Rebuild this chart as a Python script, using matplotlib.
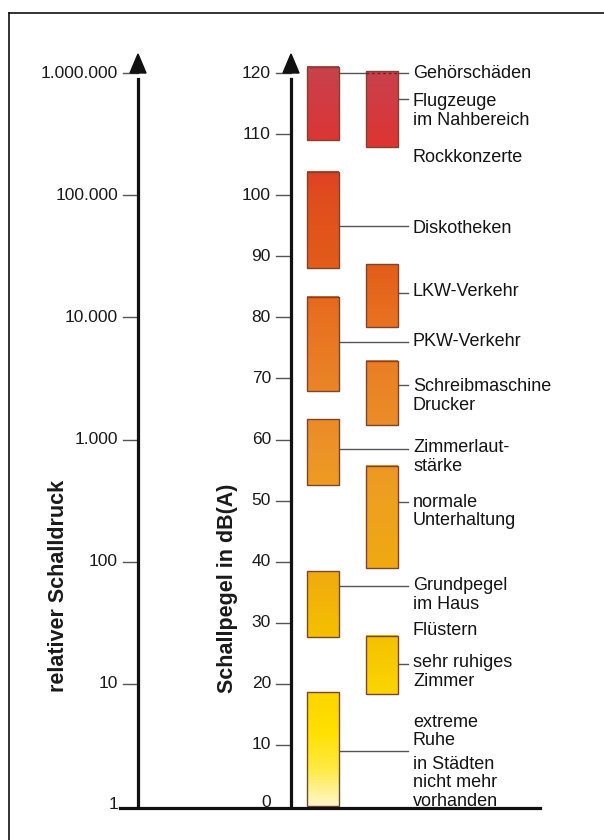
import numpy as np
import matplotlib
matplotlib.use("Agg")
import matplotlib.pyplot as plt
from matplotlib.colors import LinearSegmentedColormap, Normalize
from matplotlib.patches import Polygon

plt.rcParams['font.family'] = ['Liberation Sans', 'DejaVu Sans']

# sound level ranges in dB(A), two columns of bars
col1_lo = [109.0, 88.0, 68.0, 52.5, 27.7, 0.0]
col1_hi = [121.0, 103.8, 83.4, 63.3, 38.4, 18.6]
col2_lo = [107.9, 78.5, 62.3, 38.9, 18.4]
col2_hi = [120.3, 88.7, 72.8, 55.6, 27.9]

# labels: (center of text block in dB, text)
labels = [
    (120.0, "Gehörschäden"),
    (113.8, "Flugzeuge\nim Nahbereich"),
    (106.1, "Rockkonzerte"),
    (94.6, "Diskotheken"),
    (84.2, "LKW-Verkehr"),
    (76.1, "PKW-Verkehr"),
    (67.1, "Schreibmaschine\nDrucker"),
    (57.1, "Zimmerlaut-\nstärke"),
    (48.2, "normale\nUnterhaltung"),
    (34.5, "Grundpegel\nim Haus"),
    (28.8, "Flüstern"),
    (21.9, "sehr ruhiges\nZimmer"),
    (12.2, "extreme\nRuhe"),
    (3.8, "in Städten\nnicht mehr\nvorhanden"),
]
# leader lines: (column, level in dB)
leaders = [(1, 120.0), (2, 115.8), (1, 95.0), (2, 84.0), (1, 76.0), (2, 69.0),
           (1, 58.5), (2, 49.7), (1, 36.0), (2, 23.3), (1, 9.0)]

db_ticks = [0, 10, 20, 30, 40, 50, 60, 70, 80, 90, 100, 110, 120]
pressure = [1, 10, 100, 1000, 10000, 100000, 1000000]
pressure_labels = ["1", "10", "100", "1.000", "10.000", "100.000", "1.000.000"]

# gradient colours by level
stops = [(0, "#fff6c8"), (6, "#ffea40"), (12, "#ffe000"), (20, "#fad200"),
         (28, "#f5c000"), (38, "#f0aa10"), (50, "#eea020"), (60, "#ec9028"),
         (70, "#ea8226"), (80, "#e87020"), (90, "#e25a1a"), (100, "#e04c1e"),
         (108, "#de3430"), (114, "#d43a40"), (121, "#c8424c")]
cmap = LinearSegmentedColormap.from_list("lvl", [(v / 121, c) for v, c in stops])
norm = Normalize(0, 121)

px = 6.108  # pixels per dB
fig = plt.figure(figsize=(6.04, 8.4), dpi=100)
ax = fig.add_axes([0, 0, 1, 1])
ax.axis("off")

x_left, x_right = 138, 291
x_c1, x_c2, bw = 323, 382, 32
x_txt = 413

def draw_bars(xc, lo, hi):
    for a, b in zip(lo, hi):
        g = np.linspace(a, b, 200).reshape(-1, 1)
        ax.imshow(g, extent=[xc - bw / 2, xc + bw / 2, a, b], origin="lower",
                  cmap=cmap, norm=norm, aspect="auto", zorder=2)
    ax.bar([xc] * len(lo), np.array(hi) - np.array(lo), bottom=lo, width=bw,
           fill=False, edgecolor="#7a4430", linewidth=1.0, zorder=3)

draw_bars(x_c1, col1_lo, col1_hi)
draw_bars(x_c2, col2_lo, col2_hi)

# leader lines
for col, y in leaders:
    x0 = x_c1 + bw / 2 if col == 1 else x_c2 + bw / 2
    if col == 1 and y > col2_lo[0]:
        ax.plot([x0, x_c2 - bw / 2], [y, y], color="#555555", lw=1, zorder=1)
        ax.plot([x_c2 - bw / 2, x_c2 + bw / 2], [y, y], color="#6a2020", lw=1,
                ls=(0, (2, 2)), zorder=4)
        ax.plot([x_c2 + bw / 2, x_txt - 5], [y, y], color="#555555", lw=1, zorder=1)
    else:
        ax.plot([x0, x_txt - 5], [y, y], color="#555555", lw=1, zorder=1)

for y, t in labels:
    ax.text(x_txt, y, t, fontsize=13, ha="left", va="center", color="#141414",
            linespacing=1.12)

# axes lines
ax.plot([x_left, x_left], [0, 119], color="#111111", lw=2.3, zorder=5)
ax.plot([x_right, x_right], [0, 119], color="#111111", lw=2.3, zorder=5)
ax.plot([120, 540], [-0.3, -0.3], color="#111111", lw=2.3, zorder=5)
for xa in (x_left, x_right):
    tip = (806 - 54) / px
    base = (806 - 73) / px
    ax.add_patch(Polygon([[xa - 8, base], [xa + 8, base], [xa, tip]],
                         closed=True, color="#111111", zorder=6))

# dB ticks
for v in db_ticks:
    if v > 0:
        ax.plot([276, x_right], [v, v], color="#555555", lw=1)
    ax.text(271, v + (0.6 if v == 0 else 0), str(v), fontsize=12.5, ha="right",
            va="center", color="#1a1a1a")

# relative pressure ticks (20 dB per decade)
for p, lab in zip(pressure, pressure_labels):
    y = 20 * np.log10(p)
    if p > 1:
        ax.plot([123, x_left], [y, y], color="#555555", lw=1)
    ax.text(118, y + (0.3 if p == 1 else 0), lab, fontsize=12.5, ha="right",
            va="center", color="#1a1a1a")

ax.text(59, (806 - 586) / px, "relativer Schalldruck", rotation=90, fontsize=15.5,
        fontweight="bold", ha="center", va="center", color="#1a1a1a")
ax.text(228, (806 - 588) / px, "Schallpegel in dB(A)", rotation=90, fontsize=15.5,
        fontweight="bold", ha="center", va="center", color="#1a1a1a")

# frame (left and top edge)
top = (806 - 12.5) / px
ax.plot([8.5, 8.5], [-10, top], color="#111111", lw=1.2)
ax.plot([8.5, 610], [top, top], color="#111111", lw=1.2)

ax.set_xlim(0, 604)
ax.set_ylim((806 - 840) / px, 806 / px)

fig.savefig("out.png", dpi=100, facecolor="white")
